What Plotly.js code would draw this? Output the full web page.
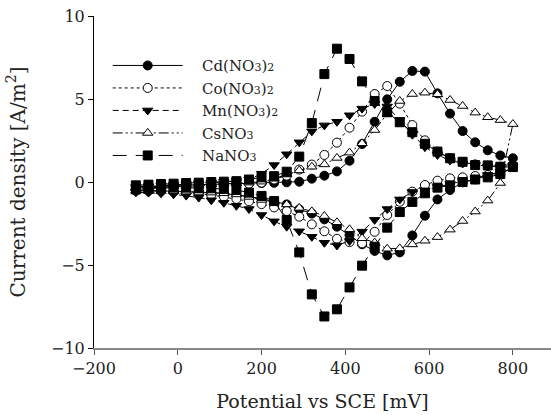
<!DOCTYPE html>
<html>
<head>
<meta charset="utf-8">
<script src="https://cdn.plot.ly/plotly-3.0.1.min.js"></script>
<style>html,body{margin:0;padding:0;background:#fff;}#chart{width:551px;height:415px;}</style>
</head>
<body>
<div id="chart"></div>
<script>
// Potential (mV): forward sweep -100..800, then reverse sweep 770..-100
const potential = [-100,-70,-40,-10,20,50,80,110,140,170,200,230,260,290,320,350,380,410,440,470,500,530,560,590,620,650,680,710,740,770,800,
  770,740,710,680,650,620,590,560,530,500,470,440,410,380,350,320,290,260,230,200,170,140,110,80,50,20,-10,-40,-70,-100];

const cdNO3 = [-0.28,-0.25,-0.22,-0.2,-0.18,-0.16,-0.14,-0.12,-0.1,-0.08,-0.06,-0.05,-0.02,0.02,0.2,0.38,0.64,1.28,2.29,3.63,4.98,6.04,6.69,6.65,5.34,4.12,3.07,2.39,1.91,1.6,1.43,
  0.62,0.38,0.16,-0.02,-0.48,-1.05,-2.03,-3.22,-4.24,-4.42,-4.15,-3.75,-3.2,-2.69,-2.25,-1.9,-1.65,-1.35,-1.17,-1.0,-0.88,-0.78,-0.7,-0.64,-0.6,-0.57,-0.55,-0.53,-0.52,-0.5];

const coNO3 = [-0.38,-0.35,-0.32,-0.3,-0.27,-0.24,-0.2,-0.16,-0.12,-0.1,-0.04,0.15,0.38,0.75,1.05,1.63,2.37,3.27,4.24,5.3,5.78,4.72,3.43,2.51,1.83,1.43,1.18,1.06,0.98,0.92,0.9,
  0.45,0.42,0.36,0.28,0.22,0.08,-0.18,-0.58,-1.19,-1.99,-3.0,-3.7,-3.62,-3.42,-2.97,-2.55,-2.09,-1.75,-1.53,-1.33,-1.16,-1.02,-0.88,-0.78,-0.7,-0.64,-0.6,-0.56,-0.54,-0.52];

const mnNO3 = [-0.3,-0.25,-0.2,-0.16,-0.12,-0.08,-0.04,0.0,0.06,0.15,0.5,1.02,1.67,2.39,3.05,3.41,3.63,4.02,4.42,4.7,4.55,3.73,2.85,2.1,1.63,1.3,1.12,1.02,0.95,0.92,0.9,
  0.6,0.42,0.22,0.05,-0.12,-0.3,-0.5,-0.6,-1.05,-1.63,-2.28,-2.99,-3.55,-3.82,-3.66,-3.3,-2.97,-2.69,-2.37,-1.99,-1.63,-1.43,-1.25,-1.1,-0.94,-0.82,-0.74,-0.68,-0.64,-0.62];

const csNO3 = [-0.33,-0.3,-0.27,-0.24,-0.21,-0.18,-0.15,-0.12,-0.08,-0.04,0.02,0.2,0.45,0.7,0.92,1.06,1.45,1.77,2.33,3.13,4.1,4.88,5.3,5.38,5.28,4.94,4.58,4.18,3.9,3.73,3.49,
  -0.06,-1.12,-1.78,-2.35,-2.87,-3.32,-3.54,-3.76,-4.0,-4.02,-3.65,-3.39,-2.85,-2.43,-2.05,-1.77,-1.56,-1.35,-1.2,-1.08,-0.9,-0.75,-0.68,-0.64,-0.6,-0.58,-0.56,-0.55,-0.54,-0.53];

const naNO3 = [-0.2,-0.16,-0.12,-0.1,-0.06,-0.04,0.0,0.02,0.05,0.15,0.28,0.35,0.62,1.53,3.55,6.5,8.03,7.41,6.06,4.88,4.2,3.6,3.0,2.3,1.83,1.43,1.22,1.02,1.0,0.92,0.9,
  0.48,0.28,0.15,0.0,-0.2,-0.34,-0.68,-1.2,-1.81,-2.75,-3.9,-5.04,-6.35,-7.67,-8.1,-6.77,-4.24,-2.29,-1.15,-0.84,-0.64,-0.48,-0.42,-0.38,-0.36,-0.34,-0.34,-0.36,-0.4,-0.45];

const xTicks = [-200, 0, 200, 400, 600, 800];
const yTicks = [-10, -5, 0, 5, 10];

const sub = s => '<span style="font-size:11px">' + s + '</span>';
const pad = '\u00A0\u00A0\u00A0';
const names = [pad + 'Cd(NO' + sub('3') + ')' + sub('2'), pad + 'Co(NO' + sub('3') + ')' + sub('2'),
  pad + 'Mn(NO' + sub('3') + ')' + sub('2'), pad + 'CsNO' + sub('3'), pad + 'NaNO' + sub('3')];

const FONT = 'DejaVu Serif, serif';
const styles = [
  {dash: 'solid', symbol: 'circle', fill: '#000'},
  {dash: 'dot', symbol: 'circle', fill: '#fff'},
  {dash: '6px,4px', symbol: 'triangle-down', fill: '#000'},
  {dash: '10px,3px,2px,3px,2px,3px', symbol: 'triangle-up', fill: '#fff'},
  {dash: '14px,9px', symbol: 'square', fill: '#000'}
];
const series = [cdNO3, coNO3, mnNO3, csNO3, naNO3];

const traces = series.map((ys, i) => ({
  type: 'scatter', mode: 'lines+markers', name: names[i],
  x: potential, y: ys,
  line: {color: '#000', width: 1, dash: styles[i].dash},
  marker: {symbol: styles[i].symbol, size: 9, color: styles[i].fill, line: {color: '#000', width: 1}}
}));

const layout = {
  width: 551, height: 415,
  margin: {l: 94, r: 0, t: 16, b: 67},
  paper_bgcolor: '#fff', plot_bgcolor: '#fff',
  font: {family: FONT, size: 16, color: '#222'},
  showlegend: true,
  legend: {x: 0.03, y: 0.9, xanchor: 'left', yanchor: 'top', bgcolor: 'rgba(0,0,0,0)',
    borderwidth: 0, itemwidth: 70, font: {family: FONT, size: 15, color: '#222'}, tracegroupgap: 0},
  xaxis: {range: [-200, 891], tickvals: xTicks, ticks: 'outside', ticklen: 5, tickcolor: '#555',
    showline: true, linecolor: '#888', linewidth: 1.5, showgrid: false, zeroline: false,
    tickfont: {family: FONT, size: 16, color: '#222'},
    title: {text: 'Potential vs SCE [mV]', font: {family: FONT, size: 19, color: '#222'}, standoff: 18}},
  yaxis: {range: [-10, 10], tickvals: yTicks, ticks: 'outside', ticklen: 5, tickcolor: '#000',
    showline: true, linecolor: '#000', linewidth: 1, showgrid: false, zeroline: false,
    tickfont: {family: FONT, size: 16, color: '#222'},
    title: {text: 'Current density [A/m<sup>2</sup>]', font: {family: FONT, size: 20, color: '#222'}, standoff: 20}}
};

Plotly.newPlot('chart', traces, layout, {staticPlot: true, displayModeBar: false});
</script>
</body>
</html>
